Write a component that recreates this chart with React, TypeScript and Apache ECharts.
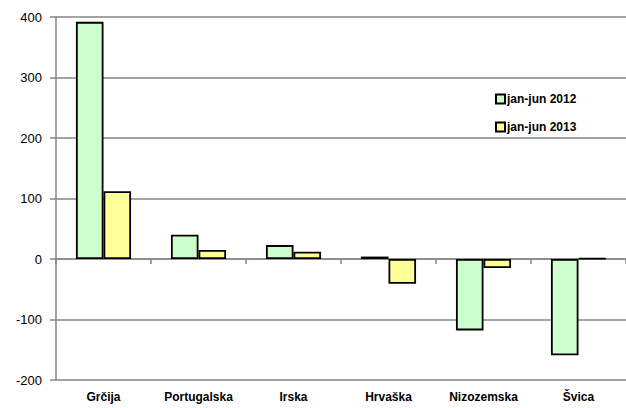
import React, { useEffect, useRef } from "react";
import * as echarts from "echarts";

const categories = ["Grčija", "Portugalska", "Irska", "Hrvaška", "Nizozemska", "Švica"];
const seriesNames = ["jan-jun 2012", "jan-jun 2013"];
const values2012 = [392, 40, 23, 4, -118, -159];
const values2013 = [112, 15, 12, -41, -15, 1];

export default function App() {
  const ref = useRef<HTMLDivElement>(null);
  useEffect(() => {
    if (!ref.current) return;
    const chart = echarts.init(ref.current, null, { renderer: "svg" });
    const font = "'Liberation Sans', Arial, sans-serif";
    chart.setOption({
      animation: false,
      backgroundColor: "#ffffff",
      textStyle: { fontFamily: font },
      grid: { left: 56, right: 0, top: 17, bottom: 28, containLabel: false },
      legend: {
        orient: "vertical",
        left: 490,
        top: 88,
        itemWidth: 9,
        itemHeight: 9,
        itemGap: 16,
        icon: "rect",
        data: seriesNames,
        textStyle: { fontFamily: font, fontWeight: "bold", fontSize: 12, color: "#000", padding: [0, 0, 0, -3] },
      },
      xAxis: [
        {
          type: "category",
          data: categories,
          axisLine: { onZero: true, lineStyle: { color: "#868686", width: 1.5 } },
          axisTick: { show: true, length: 5, inside: false, alignWithLabel: false, lineStyle: { color: "#868686", width: 1.5 } },
          axisLabel: { show: false },
          splitLine: { show: false },
        },
        {
          type: "category",
          data: categories,
          position: "bottom",
          axisLine: { show: false, onZero: false },
          axisTick: { show: false },
          axisLabel: { show: true, margin: 11, fontFamily: font, fontWeight: "bold", fontSize: 12, color: "#000" },
          splitLine: { show: false },
        },
      ],
      yAxis: {
        type: "value",
        min: -200,
        max: 400,
        interval: 100,
        axisLine: { show: true, lineStyle: { color: "#868686", width: 1.5 } },
        axisTick: { show: true, length: 6, lineStyle: { color: "#868686", width: 1.5 } },
        axisLabel: { margin: 14, fontFamily: font, fontSize: 13, color: "#000" },
        splitLine: { show: true, lineStyle: { color: "#868686", width: 1.5 } },
      },
      series: [
        {
          name: seriesNames[0],
          type: "bar",
          xAxisIndex: 0,
          data: values2012,
          barGap: "0%",
          barCategoryGap: "42%",
          itemStyle: { color: "#ccffcc", borderColor: "#000", borderWidth: 1.8 },
        },
        {
          name: seriesNames[1],
          type: "bar",
          xAxisIndex: 0,
          data: values2013,
          barGap: "0%",
          barCategoryGap: "42%",
          itemStyle: { color: "#ffff99", borderColor: "#000", borderWidth: 1.8 },
        },
      ],
    });
    return () => chart.dispose();
  }, []);
  return <div ref={ref} style={{ width: 626, height: 408, position: "absolute", left: 0, top: 0 }} />;
}
